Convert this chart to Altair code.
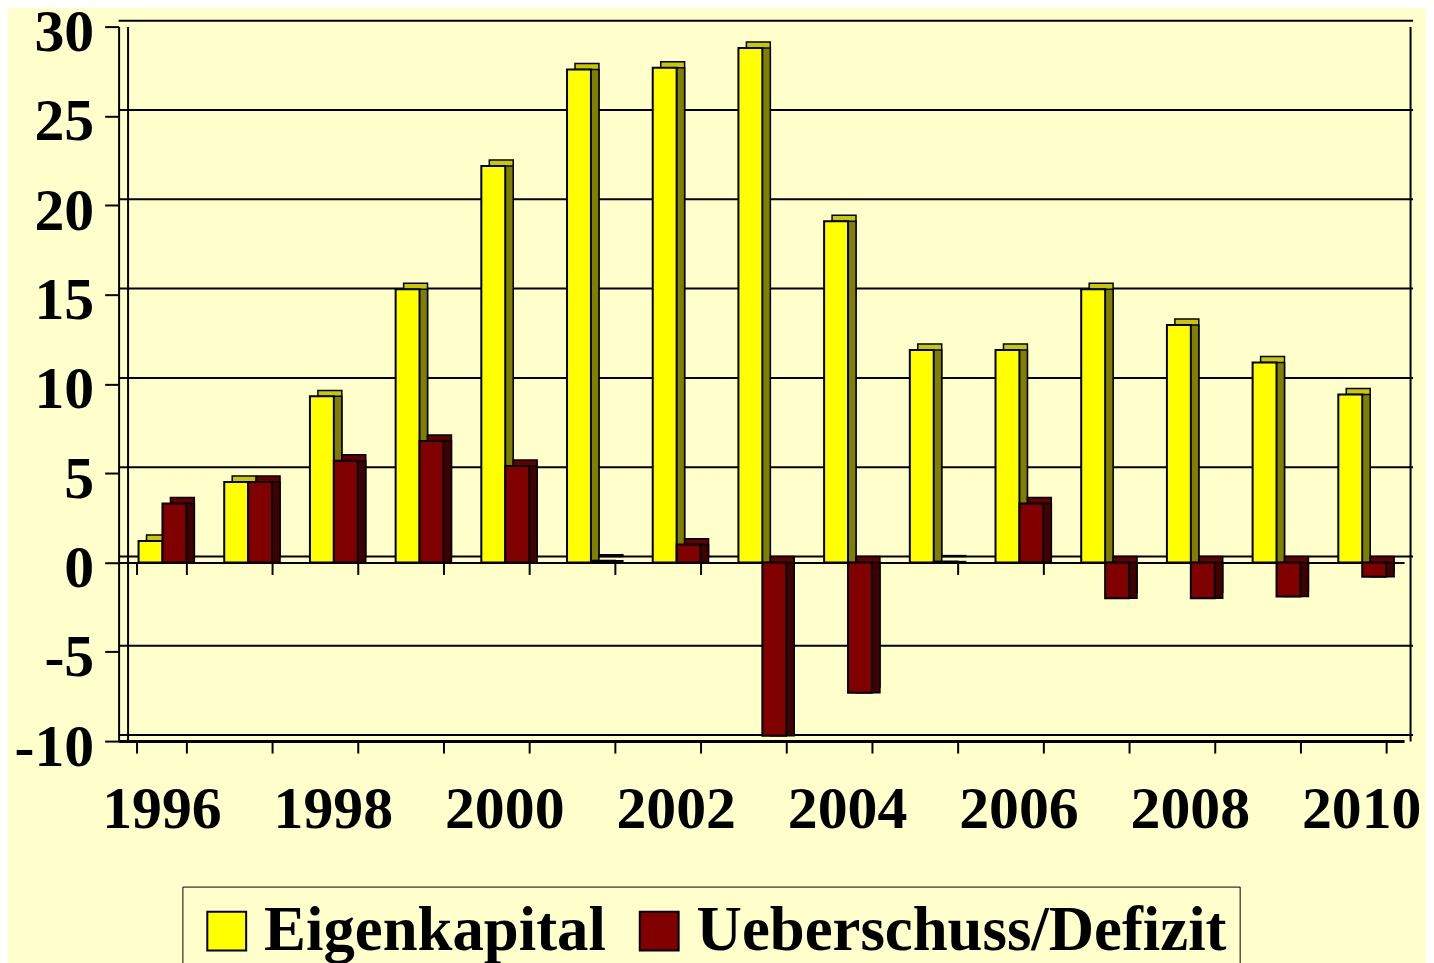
import altair as alt
import pandas as pd

# ---- data ----
years = list(range(1996, 2011))
eigenkapital = [1.2, 4.5, 9.3, 15.3, 22.2, 27.6, 27.7, 28.8, 19.1, 11.9, 11.9, 15.3, 13.3, 11.2, 9.4]
ueberschuss = [3.3, 4.5, 5.7, 6.8, 5.4, 0.1, 1.0, -9.7, -7.3, 0.05, 3.3, -2.0, -2.0, -1.9, -0.8]
series = ["Eigenkapital", "Ueberschuss/Defizit"]
y_ticks = [-10, -5, 0, 5, 10, 15, 20, 25, 30]

# ---- styles ----
front_colors = ["#FFFF00", "#800000"]
top_colors = ["#C8C800", "#600000"]
side_colors = ["#808000", "#400000"]
BG = "#FFFFCC"
FONT = "Liberation Serif"
W, H = 1290, 717
BAR_W = 24
SHIFT = [-11, 13]      # horizontal offset of each series inside a year band
DX, DY = 8, -6         # depth of the pseudo-3D bars

rows = []
for i, yr in enumerate(years):
    rows.append({"Jahr": yr, "Reihe": series[0], "Wert": eigenkapital[i]})
    rows.append({"Jahr": yr, "Reihe": series[1], "Wert": ueberschuss[i]})
df = pd.DataFrame(rows)
grid_df = pd.DataFrame({"v": y_ticks})

x_scale = alt.Scale(paddingInner=0.42, paddingOuter=0.21)
y_scale = alt.Scale(domain=[-10, 30], nice=False, zero=True)

zero_axis = alt.Axis(
    orient="bottom", offset=-(H * 10 / 40), labels=False,
    domain=True, domainColor="black", domainWidth=2,
    ticks=True, tickSize=12, tickWidth=2, tickColor="black", tickBand="extent",
    grid=False, title=None,
)
main_x_axis = alt.Axis(
    orient="bottom", title=None, labelAngle=0,
    labelExpr="datum.value % 2 == 0 ? datum.label : ''",
    labelFont=FONT, labelFontSize=60, labelFontWeight="bold", labelColor="black",
    labelPadding=28, tickSize=12, tickWidth=2, tickColor="black", tickBand="extent",
    domainColor="black", domainWidth=3, grid=False,
)
y_axis = alt.Axis(
    values=y_ticks, title=None, orient="left",
    labelExpr="datum.value < 0 ? '-' + abs(datum.value) : datum.label",
    labelFont=FONT, labelFontSize=60, labelFontWeight="bold", labelColor="black",
    labelPadding=11, labelOffset=6, tickSize=14, tickWidth=2, tickColor="black",
    domainColor="black", domainWidth=2, grid=False,
)
right_wall = alt.Axis(
    orient="right", offset=6, title=None, labels=False, ticks=False, grid=False,
    domainColor="black", domainWidth=2,
)
left_wall = alt.Axis(
    orient="left", offset=-9, title=None, labels=False, ticks=False, grid=False,
    domainColor="black", domainWidth=2,
)

legend = alt.Legend(
    title=None, orient="none", legendX=64, legendY=863, direction="horizontal",
    symbolType="square", symbolSize=1521, symbolStrokeColor="black",
    symbolStrokeWidth=2, labelFont=FONT, labelFontSize=63,
    labelFontWeight="bold", labelColor="black", labelLimit=0, labelOffset=6,
    columnPadding=21, padding=13, strokeColor="black", fillColor=BG,
)

# back-wall gridlines
grid = alt.Chart(grid_df).mark_rule(
    color="black", strokeWidth=2, xOffset=9, x2Offset=6, yOffset=DY,
).encode(y=alt.Y("v:Q", scale=y_scale, axis=right_wall))

base = alt.Chart(df)


def depth_layer(k, color, dy, x_axis, y_ax):
    return base.transform_filter(alt.datum.Reihe == series[k]).mark_bar(
        width=BAR_W, xOffset=SHIFT[k] + DX, yOffset=dy,
        color=color, stroke="black", strokeWidth=1.5,
    ).encode(
        x=alt.X("Jahr:O", scale=x_scale, axis=x_axis),
        y=alt.Y("Wert:Q", scale=y_scale, axis=y_ax),
    )


def front_layer(k, x_axis, y_ax):
    return base.transform_filter(alt.datum.Reihe == series[k]).mark_bar(
        width=BAR_W, xOffset=SHIFT[k], stroke="black", strokeWidth=2,
    ).encode(
        x=alt.X("Jahr:O", scale=x_scale, axis=x_axis),
        y=alt.Y("Wert:Q", scale=y_scale, axis=y_ax),
        color=alt.Color("Reihe:N", scale=alt.Scale(domain=series, range=front_colors), legend=legend),
    )


chart = (
    alt.layer(
        grid,
        depth_layer(0, top_colors[0], DY, zero_axis, left_wall),
        depth_layer(0, side_colors[0], 0, None, None),
        depth_layer(1, top_colors[1], DY, None, None),
        depth_layer(1, side_colors[1], 0, None, None),
        front_layer(0, main_x_axis, y_axis),
        front_layer(1, None, None),
    )
    .resolve_axis(x="independent", y="independent")
    .properties(
        width=W, height=H,
        autosize=alt.AutoSizeParams(type="none"),
        padding={"left": 111, "top": 17, "right": 22, "bottom": 221},
    )
    .configure(background=BG)
    .configure_view(stroke="transparent")
)

chart.save("out.html", embed_options={"renderer": "svg", "actions": False})
